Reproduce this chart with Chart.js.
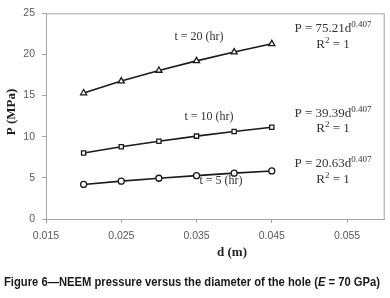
<!DOCTYPE html>
<html>
<head>
<meta charset="utf-8">
<script src="https://cdn.jsdelivr.net/npm/chart.js@4"></script>
<style>
  body { margin: 0; background: #fff; }
</style>
</head>
<body>
<canvas id="grafico" width="390" height="298"></canvas>
<script>

// diametro do furo (m) e pressao (MPa)
const diametros = [0.020, 0.025, 0.030, 0.035, 0.040, 0.045];
const pressaoT20 = [15.31, 16.76, 18.05, 19.22, 20.29, 21.29];
const pressaoT10 = [8.02, 8.78, 9.45, 10.07, 10.63, 11.15];
const pressaoT5 = [4.20, 4.60, 4.95, 5.27, 5.57, 5.84];

const ticksX = [0.015, 0.025, 0.035, 0.045, 0.055];
const ticksY = [0, 5, 10, 15, 20, 25];

const rotulos = ['t = 20 (hr)', 't = 10 (hr)', 't = 5 (hr)'];
const equacoes = ['P = 75.21d', 'P = 39.39d', 'P = 20.63d'];
const expoente = '0.407';
const legenda = 'Figure 6\u2014NEEM pressure versus the diameter of the hole (';

function pontos(ys) {
  return diametros.map((d, i) => ({ x: d, y: ys[i] }));
}

function serie(ys, estilo, raio) {
  return {
    data: pontos(ys),
    borderColor: '#1a1a1a',
    borderWidth: 1.6,
    pointStyle: estilo,
    pointRadius: raio,
    pointBackgroundColor: '#fff',
    pointBorderColor: '#1a1a1a',
    pointBorderWidth: 1.3,
    tension: 0
  };
}

// textos, moldura e legenda da figura
const textos = {
  id: 'textos',
  afterDraw(chart) {
    const ctx = chart.ctx;
    const a = chart.chartArea;
    ctx.save();

    ctx.strokeStyle = '#a6a6a6';
    ctx.lineWidth = 1;
    ctx.strokeRect(a.left + 0.5, a.top + 0.5, a.right - a.left - 1, a.bottom - a.top);

    ctx.fillStyle = '#333';
    ctx.textBaseline = 'middle';
    ctx.textAlign = 'center';
    ctx.font = '12px "Liberation Serif", serif';
    ctx.fillText(rotulos[0], 199, 37);
    ctx.fillText(rotulos[1], 209, 117);
    ctx.fillText(rotulos[2], 221, 181);

    const linhasEq = [[29, 45], [114, 129], [164, 180]];
    linhasEq.forEach((yy, i) => {
      ctx.font = '13px "Liberation Serif", serif';
      ctx.textAlign = 'left';
      const w1 = ctx.measureText(equacoes[i]).width;
      ctx.font = '9px "Liberation Serif", serif';
      const w2 = ctx.measureText(expoente).width;
      const x0 = 333 - (w1 + w2) / 2;
      ctx.font = '13px "Liberation Serif", serif';
      ctx.fillText(equacoes[i], x0, yy[0]);
      ctx.font = '9px "Liberation Serif", serif';
      ctx.fillText(expoente, x0 + w1, yy[0] - 4);

      ctx.font = '13px "Liberation Serif", serif';
      const r1 = 'R', r3 = ' = 1';
      const wr1 = ctx.measureText(r1).width;
      const wr3 = ctx.measureText(r3).width;
      ctx.font = '9px "Liberation Serif", serif';
      const wr2 = ctx.measureText('2').width;
      const xr = 333 - (wr1 + wr2 + wr3) / 2;
      ctx.font = '13px "Liberation Serif", serif';
      ctx.fillText(r1, xr, yy[1]);
      ctx.fillText(r3, xr + wr1 + wr2, yy[1]);
      ctx.font = '9px "Liberation Serif", serif';
      ctx.fillText('2', xr + wr1, yy[1] - 4);
    });

    // titulos dos eixos
    ctx.fillStyle = '#222';
    ctx.textAlign = 'center';
    ctx.font = 'bold 13px "Liberation Serif", serif';
    ctx.fillText('d (m)', 232, 253);
    ctx.save();
    ctx.translate(12, 112);
    ctx.rotate(-Math.PI / 2);
    ctx.fillText('P (MPa)', 0, 0);
    ctx.restore();

    // legenda da figura, ajustada a largura da imagem
    ctx.fillStyle = '#1a1a1a';
    ctx.textAlign = 'left';
    const fb = 'bold 12.5px "Liberation Sans Narrow", "Liberation Sans", Arial, sans-serif';
    const fi = 'bold italic 12.5px "Liberation Sans Narrow", "Liberation Sans", Arial, sans-serif';
    ctx.font = fb;
    const wA = ctx.measureText(legenda).width;
    ctx.font = fi;
    const wE = ctx.measureText('E').width;
    ctx.font = fb;
    const wB = ctx.measureText(' = 70 GPa)').width;
    const total = wA + wE + wB;
    const k = 376 / total;
    ctx.save();
    ctx.translate(4, 283);
    ctx.scale(k, 1);
    ctx.font = fb;
    ctx.fillText(legenda, 0, 0);
    ctx.font = fi;
    ctx.fillText('E', wA, 0);
    ctx.font = fb;
    ctx.fillText(' = 70 GPa)', wA + wE, 0);
    ctx.restore();

    ctx.restore();
  }
};

const grafico = new Chart(document.getElementById('grafico'), {
  type: 'line',
  data: {
    datasets: [
      serie(pressaoT20, 'triangle', 3.5),
      serie(pressaoT10, 'rect', 3),
      serie(pressaoT5, 'circle', 3)
    ]
  },
  options: {
    responsive: false,
    animation: false,
    layout: { padding: { top: 9, right: 3, left: 0, bottom: 0 } },
    plugins: { legend: { display: false }, tooltip: { enabled: false } },
    scales: {
      x: {
        type: 'linear',
        min: 0.015,
        max: 0.06,
        afterBuildTicks: (s) => { s.ticks = ticksX.map(v => ({ value: v })); },
        afterFit: (s) => { s.height = 79; },
        ticks: {
          color: '#595959',
          font: { family: '"Liberation Sans", Arial, sans-serif', size: 10.5 },
          padding: 7,
          maxRotation: 0,
          callback: (v) => Number(v).toFixed(3)
        },
        grid: { drawOnChartArea: false, tickLength: 4, color: '#a6a6a6' },
        border: { color: '#a6a6a6' }
      },
      y: {
        min: 0,
        max: 25,
        afterBuildTicks: (s) => { s.ticks = ticksY.map(v => ({ value: v })); },
        afterFit: (s) => { s.width = 46; },
        ticks: {
          color: '#595959',
          font: { family: '"Liberation Sans", Arial, sans-serif', size: 10.5 },
          padding: 7
        },
        grid: { drawOnChartArea: false, tickLength: 4, color: '#a6a6a6' },
        border: { color: '#a6a6a6' }
      }
    }
  },
  plugins: [textos]
});
</script>
</body>
</html>
